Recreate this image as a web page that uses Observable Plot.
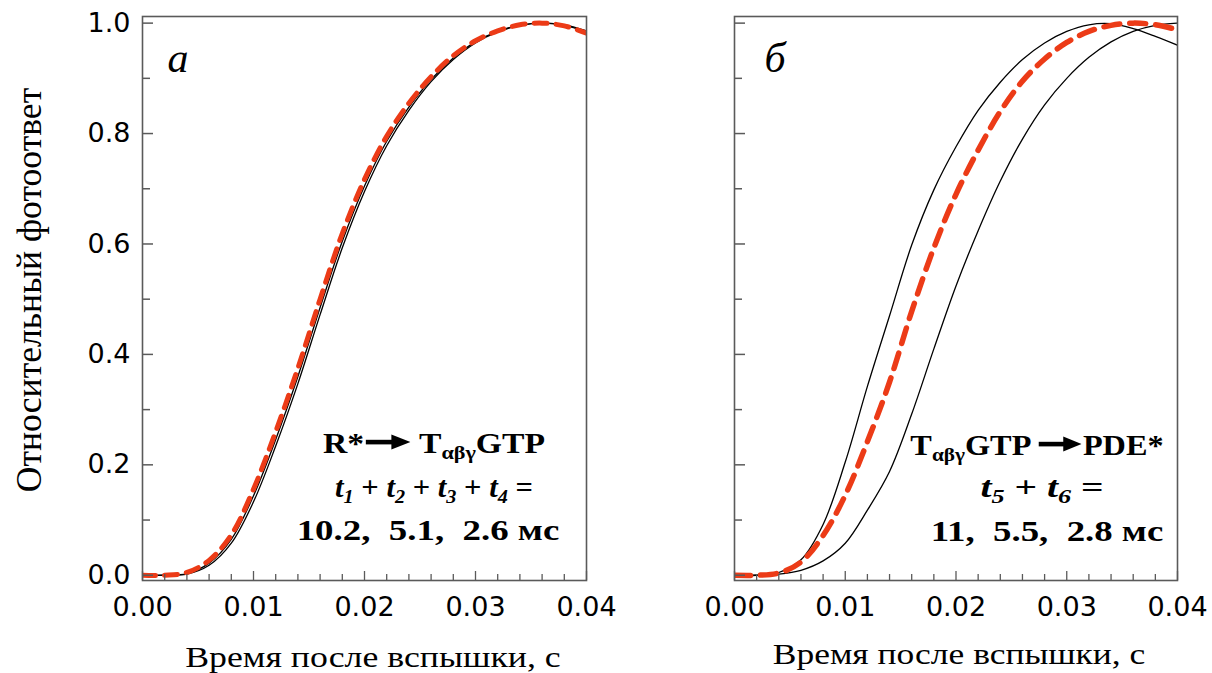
<!DOCTYPE html>
<html><head><meta charset="utf-8">
<script src="https://cdn.jsdelivr.net/npm/d3@7"></script>
<script src="https://cdn.jsdelivr.net/npm/@observablehq/plot@0.6"></script>
<style>
html,body{margin:0;padding:0;background:#fff;}
#wrap{position:relative;width:1212px;height:673px;overflow:hidden;background:#fff;}
#wrap > svg{position:absolute;top:0;}
.t{position:absolute;white-space:pre;line-height:1;font-family:"Liberation Serif","Times New Roman",serif;color:#000;transform-origin:50% 50%;}
.t sub{font-size:0.66em;vertical-align:-0.32em;line-height:0;}
.t svg{vertical-align:0.06em;margin:0 1px;}
</style></head><body><div id="wrap"></div>
<script>
// ---- data ----
const times = [0, 0.002, 0.004, 0.006, 0.008, 0.010, 0.012, 0.014, 0.016, 0.018, 0.020,
               0.022, 0.024, 0.026, 0.028, 0.030, 0.032, 0.034, 0.036, 0.038, 0.040];

// panel а
const leftModel1 = [0, 0, 0.003, 0.022, 0.065, 0.144, 0.246, 0.360, 0.485, 0.605, 0.705,
                    0.786, 0.848, 0.898, 0.937, 0.966, 0.985, 0.996, 1.000, 0.996, 0.984];
const leftModel2 = [0, 0, 0.002, 0.018, 0.058, 0.133, 0.234, 0.347, 0.472, 0.593, 0.695,
                    0.778, 0.842, 0.894, 0.934, 0.964, 0.984, 0.996, 1.000, 0.997, 0.986];
const leftFit    = [0, 0, 0.005, 0.027, 0.073, 0.156, 0.260, 0.375, 0.500, 0.619, 0.717,
                    0.795, 0.855, 0.903, 0.941, 0.968, 0.986, 0.997, 1.000, 0.995, 0.982];

// panel б
const rightFast  = [0, 0, 0.005, 0.028, 0.092, 0.205, 0.342, 0.470, 0.598, 0.698, 0.776,
                    0.842, 0.893, 0.934, 0.964, 0.985, 0.997, 0.999, 0.990, 0.976, 0.960];
const rightSlow  = [0, 0, 0.002, 0.009, 0.026, 0.058, 0.118, 0.188, 0.292, 0.410, 0.524,
                    0.624, 0.714, 0.790, 0.852, 0.900, 0.938, 0.966, 0.985, 0.996, 1.000];
const rightFit   = [0, 0, 0.004, 0.024, 0.072, 0.145, 0.242, 0.350, 0.478, 0.593, 0.690,
                    0.770, 0.840, 0.895, 0.935, 0.965, 0.985, 0.996, 1.000, 0.997, 0.988];

// ticks
const xTickValues = [0, 0.01, 0.02, 0.03, 0.04];
const xMinorTicks = [0.002, 0.004, 0.006, 0.008, 0.012, 0.014, 0.016, 0.018, 0.022, 0.024,
                     0.026, 0.028, 0.032, 0.034, 0.036, 0.038];
const yTickValues = [0, 0.2, 0.4, 0.6, 0.8, 1.0];
const yMinorTicks = [0.1, 0.3, 0.5, 0.7, 0.9];

// texts
const xTitle = "Время после вспышки, с";
const yTitle = "Относительный фотоответ";
const panelLetters = ["а", "б"];

// ---- drawing ----
const wrap = document.getElementById("wrap");
const H = 673, MT = 16, MB = 93;
const axisGray = "#5a5a5a";
const fitRed = "#ec3b17";

function panel({width, ml, mr, left, blacks, fit, dash, yLabels}) {
  const plotW = width - ml - mr, plotH = H - MT - MB;
  const lineOf = (arr, o) => Plot.line(times, {x: d => d, y: (d, i) => arr[i], curve: "catmull-rom", clip: true, ...o});
  const marks = [
    ...blacks.map(a => lineOf(a, {stroke: "#000", strokeWidth: 1.3})),
    lineOf(fit, {stroke: fitRed, strokeWidth: dash.w, strokeDasharray: dash.a}),
    Plot.tickY(yMinorTicks, {y: d => d, stroke: axisGray, strokeWidth: 1.5, insetRight: plotW - 8}),
    Plot.tickY(yTickValues, {y: d => d, stroke: axisGray, strokeWidth: 1.5, insetRight: plotW - 11}),
    Plot.tickX(xMinorTicks, {x: d => d, stroke: axisGray, strokeWidth: 1.3, insetTop: plotH - 6}),
    Plot.tickX(xTickValues, {x: d => d, stroke: axisGray, strokeWidth: 1.3, insetTop: plotH - 9}),
    Plot.axisX(xTickValues, {tickSize: 0, tickPadding: 16, tickFormat: d3.format(".2f"), label: null}),
    Plot.frame({stroke: axisGray, strokeWidth: 1.6})
  ];
  if (yLabels) marks.push(Plot.axisY(yTickValues, {tickSize: 0, tickPadding: 12, tickFormat: d3.format(".1f"), label: null}));
  const svg = Plot.plot({
    width, height: H, marginLeft: ml, marginRight: mr, marginTop: MT, marginBottom: MB,
    x: {domain: [0, 0.04], label: null},
    y: {domain: [-0.0095, 1.012], label: null, axis: yLabels ? undefined : null},
    style: {fontFamily: "'DejaVu Sans', sans-serif", fontSize: "27px", color: "#000", background: "transparent", overflow: "visible"},
    marks
  });
  svg.style.left = left + "px";
  wrap.appendChild(svg);
}

panel({width: 600, ml: 142, mr: 14, left: 0, blacks: [leftModel1, leftModel2], fit: leftFit,
       dash: {w: 5, a: "13,9"}, yLabels: true});
panel({width: 612, ml: 134, mr: 35, left: 600, blacks: [rightFast, rightSlow], fit: rightFit,
       dash: {w: 5.5, a: "16,10"}, yLabels: false});

const arrow = '<svg width="40" height="18" viewBox="0 0 40 18"><rect x="0" y="6.8" width="27" height="4.6" fill="#000"/><polygon points="23,1.5 40,9 23,16.5" fill="#000"/></svg>';

function label(html, {cx, base, cy, size, weight = "normal", style = "normal", width, rotate = false}) {
  const d = document.createElement("div");
  d.className = "t";
  d.innerHTML = html;
  d.style.fontSize = size + "px";
  d.style.fontWeight = weight;
  d.style.fontStyle = style;
  wrap.appendChild(d);
  const k = width ? width / d.offsetWidth : 1;
  d.style.left = cx + "px";
  if (rotate) {
    d.style.top = cy + "px";
    d.style.transform = `translate(-50%,-50%) rotate(-90deg) scaleX(${k})`;
  } else {
    d.style.top = (base - 0.8375 * size) + "px";
    d.style.transform = `translateX(-50%) scaleX(${k})`;
  }
}

// axis titles
label(xTitle, {cx: 373, base: 667, size: 29, width: 376});
label(xTitle, {cx: 959, base: 664, size: 29, width: 373});
label(yTitle, {cx: 29, cy: 290, size: 35, width: 404, rotate: true});

// panel letters
label(panelLetters[0], {cx: 178, base: 72, size: 42, style: "italic"});
label(panelLetters[1], {cx: 775, base: 72, size: 42, style: "italic"});

// annotations
label('R*' + arrow + ' T<sub>αβγ</sub>GTP', {cx: 434, base: 453, size: 30, weight: "bold", width: 222});
label('<i>t<sub>1</sub></i> + <i>t<sub>2</sub></i> + <i>t<sub>3</sub></i> + <i>t<sub>4</sub></i> =', {cx: 434, base: 497, size: 30, weight: "bold", width: 198});
label('10.2,  5.1,  2.6 мс', {cx: 428, base: 540, size: 30, weight: "bold", width: 263});
label('T<sub>αβγ</sub>GTP ' + arrow + 'PDE*', {cx: 1037, base: 455, size: 30, weight: "bold", width: 253});
label('<i>t<sub>5</sub></i> + <i>t<sub>6</sub></i> =', {cx: 1042, base: 497, size: 30, weight: "bold", width: 123});
label('11,  5.5,  2.8 мс', {cx: 1047, base: 541, size: 30, weight: "bold", width: 233});
</script>
</body></html>
